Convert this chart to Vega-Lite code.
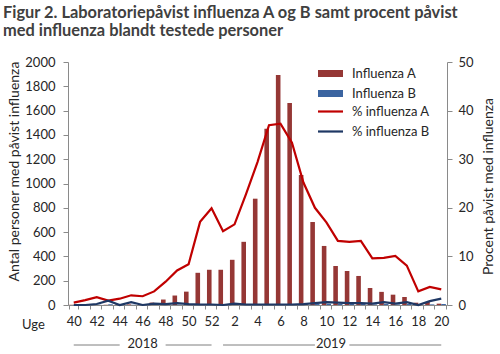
{
  "$schema": "https://vega.github.io/schema/vega-lite/v6.json",
  "width": 379,
  "height": 243,
  "autosize": "none",
  "padding": {"left": 68, "top": 62, "right": 53, "bottom": 49},
  "background": "white",
  "config": {
    "font": "Lato",
    "view": {"stroke": null},
    "axis": {
      "grid": false,
      "domainColor": "#8a8a8a",
      "tickColor": "#8a8a8a",
      "labelFontSize": 13,
      "labelColor": "#262626",
      "titleFontSize": 14,
      "titleFontWeight": "normal",
      "titleColor": "#262626",
      "tickSize": 5,
      "labelOverlap": false
    },
    "legend": {"labelFontSize": 13, "labelColor": "#262626"}
  },
  "title": {
    "text": ["Figur 2. Laboratoriepåvist influenza A og B samt procent påvist", "med influenza blandt testede personer"],
    "anchor": "start",
    "frame": "group",
    "dx": -65,
    "offset": 17,
    "fontSize": 16.4,
    "fontWeight": "bold",
    "color": "#404040",
    "lineHeight": 18
  },
  "datasets": {
    "w": [
      {"week": "40", "Influenza A": 2, "Influenza B": 0, "% influenza A": 0.5, "% influenza B": 0.0},
      {"week": "41", "Influenza A": 3, "Influenza B": 0, "% influenza A": 1.0, "% influenza B": 0.0},
      {"week": "42", "Influenza A": 3, "Influenza B": 2, "% influenza A": 1.6, "% influenza B": 0.2},
      {"week": "43", "Influenza A": 2, "Influenza B": 6, "% influenza A": 0.9, "% influenza B": 0.9},
      {"week": "44", "Influenza A": 4, "Influenza B": 0, "% influenza A": 1.3, "% influenza B": 0.0},
      {"week": "45", "Influenza A": 5, "Influenza B": 3, "% influenza A": 2.0, "% influenza B": 0.6},
      {"week": "46", "Influenza A": 8, "Influenza B": 0, "% influenza A": 1.8, "% influenza B": 0.0},
      {"week": "47", "Influenza A": 20, "Influenza B": 2, "% influenza A": 2.8, "% influenza B": 0.3},
      {"week": "48", "Influenza A": 45, "Influenza B": 2, "% influenza A": 4.8, "% influenza B": 0.2},
      {"week": "49", "Influenza A": 78, "Influenza B": 3, "% influenza A": 7.1, "% influenza B": 0.4},
      {"week": "50", "Influenza A": 110, "Influenza B": 2, "% influenza A": 8.4, "% influenza B": 0.2},
      {"week": "51", "Influenza A": 265, "Influenza B": 2, "% influenza A": 17.1, "% influenza B": 0.1},
      {"week": "52", "Influenza A": 290, "Influenza B": 1, "% influenza A": 19.9, "% influenza B": 0.1},
      {"week": "1", "Influenza A": 290, "Influenza B": 0, "% influenza A": 15.2, "% influenza B": 0.0},
      {"week": "2", "Influenza A": 372, "Influenza B": 6, "% influenza A": 16.6, "% influenza B": 0.3},
      {"week": "3", "Influenza A": 520, "Influenza B": 3, "% influenza A": 22.8, "% influenza B": 0.1},
      {"week": "4", "Influenza A": 875, "Influenza B": 2, "% influenza A": 29.4, "% influenza B": 0.1},
      {"week": "5", "Influenza A": 1450, "Influenza B": 3, "% influenza A": 37.0, "% influenza B": 0.1},
      {"week": "6", "Influenza A": 1893, "Influenza B": 4, "% influenza A": 37.3, "% influenza B": 0.1},
      {"week": "7", "Influenza A": 1663, "Influenza B": 4, "% influenza A": 33.4, "% influenza B": 0.1},
      {"week": "8", "Influenza A": 1070, "Influenza B": 5, "% influenza A": 25.2, "% influenza B": 0.2},
      {"week": "9", "Influenza A": 683, "Influenza B": 8, "% influenza A": 20.0, "% influenza B": 0.4},
      {"week": "10", "Influenza A": 486, "Influenza B": 10, "% influenza A": 17.0, "% influenza B": 0.6},
      {"week": "11", "Influenza A": 321, "Influenza B": 9, "% influenza A": 13.2, "% influenza B": 0.5},
      {"week": "12", "Influenza A": 280, "Influenza B": 8, "% influenza A": 13.0, "% influenza B": 0.4},
      {"week": "13", "Influenza A": 239, "Influenza B": 10, "% influenza A": 13.2, "% influenza B": 0.4},
      {"week": "14", "Influenza A": 140, "Influenza B": 5, "% influenza A": 9.6, "% influenza B": 0.3},
      {"week": "15", "Influenza A": 108, "Influenza B": 8, "% influenza A": 9.7, "% influenza B": 0.6},
      {"week": "16", "Influenza A": 85, "Influenza B": 5, "% influenza A": 10.1, "% influenza B": 0.3},
      {"week": "17", "Influenza A": 66, "Influenza B": 8, "% influenza A": 8.1, "% influenza B": 0.6},
      {"week": "18", "Influenza A": 19, "Influenza B": 0, "% influenza A": 2.8, "% influenza B": 0.0},
      {"week": "19", "Influenza A": 25, "Influenza B": 5, "% influenza A": 3.7, "% influenza B": 0.8},
      {"week": "20", "Influenza A": 11, "Influenza B": 8, "% influenza A": 3.2, "% influenza B": 1.3}
    ]
  },
  "resolve": {"scale": {"y": "independent"}},
  "layer": [
    {
      "data": {"name": "w"},
      "transform": [{"fold": ["Influenza A", "Influenza B"], "as": ["series", "value"]}],
      "mark": {"type": "bar"},
      "encoding": {
        "x": {
          "field": "week",
          "type": "ordinal",
          "title": "Uge",
          "scale": {
            "domain": ["40","41","42","43","44","45","46","47","48","49","50","51","52","1","2","3","4","5","6","7","8","9","10","11","12","13","14","15","16","17","18","19","20"],
            "paddingInner": 0.2,
            "paddingOuter": 0.1
          },
          "axis": {
            "labelAngle": 0,
            "labelOverlap": false,
            "labelExpr": "toNumber(datum.label) % 2 == 0 ? datum.label : ''",
            "tickBand": "extent",
            "tickSize": 4,
            "labelPadding": 6,
            "titleFontSize": 13,
            "titleX": -35,
            "titleY": 19,
            "titleAlign": "center",
            "titleBaseline": "middle",
            "titleAnchor": null
          }
        },
        "xOffset": {"field": "series", "scale": {"domain": ["Influenza A", "Influenza B"]}},
        "y": {
          "field": "value",
          "type": "quantitative",
          "title": "Antal personer med påvist influenza",
          "scale": {"domain": [0, 2000]},
          "axis": {
            "orient": "left",
            "values": [0,200,400,600,800,1000,1200,1400,1600,1800,2000],
            "format": "d",
            "labelOverlap": false,
            "labelPadding": 8,
            "titleAngle": 270,
            "titleX": -54,
            "titleY": 109,
            "titleAlign": "center",
            "titleBaseline": "middle",
            "titleAnchor": null
          }
        },
        "fill": {
          "field": "series",
          "type": "nominal",
          "scale": {"domain": ["Influenza A", "Influenza B"], "range": ["#953735", "#3b64a0"]},
          "legend": {
            "title": null,
            "orient": "none",
            "legendX": 256,
            "legendY": 5,
            "padding": 0,
            "symbolType": "M-2.5,-0.7H2.5V0.7H-2.5Z",
            "symbolSize": 100,
            "labelOffset": 15,
            "rowPadding": 6
          }
        }
      }
    },
    {
      "data": {"values": [{"from": "40", "to": "44"}, {"from": "48", "to": "52"}, {"from": "1", "to": "9"}, {"from": "12", "to": "20"}]},
      "mark": {"type": "rule", "color": "#7f7f7f", "strokeWidth": 1, "yOffset": 40},
      "encoding": {
        "x": {"field": "from", "type": "ordinal", "title": "Uge"},
        "x2": {"field": "to"},
        "y": {"datum": 0, "type": "quantitative", "scale": {"domain": [0, 1]}, "axis": null}
      }
    },
    {
      "data": {"values": [{"week": "46", "year": "2018"}]},
      "mark": {"type": "text", "dy": 39, "fontSize": 13, "color": "#262626"},
      "encoding": {
        "x": {"field": "week", "type": "ordinal", "title": "Uge"},
        "y": {"datum": 0, "type": "quantitative", "scale": {"domain": [0, 1]}, "axis": null},
        "text": {"field": "year"}
      }
    },
    {
      "data": {"values": [{"week": "10", "year": "2019"}]},
      "mark": {"type": "text", "dy": 39, "fontSize": 13, "color": "#262626"},
      "encoding": {
        "x": {"field": "week", "type": "ordinal", "title": "Uge", "bandPosition": 1},
        "y": {"datum": 0, "type": "quantitative", "scale": {"domain": [0, 1]}, "axis": null},
        "text": {"field": "year"}
      }
    },
    {
      "data": {"name": "w"},
      "transform": [{"fold": ["% influenza A", "% influenza B"], "as": ["series", "value"]}],
      "mark": {"type": "line", "strokeWidth": 2.2},
      "encoding": {
        "x": {"field": "week", "type": "ordinal", "title": "Uge"},
        "y": {
          "field": "value",
          "type": "quantitative",
          "scale": {"domain": [0, 50]},
          "axis": {
            "orient": "right",
            "values": [0,10,20,30,40,50],
            "labelOverlap": false,
            "title": "Procent påvist med influenza",
            "labelPadding": 6,
            "titleAngle": 270,
            "titleX": 41,
            "titleY": 124,
            "titleAlign": "center",
            "titleBaseline": "middle",
            "titleAnchor": null
          }
        },
        "stroke": {
          "field": "series",
          "type": "nominal",
          "scale": {"domain": ["% influenza A", "% influenza B"], "range": ["#c00000", "#1f3864"]},
          "legend": {
            "title": null,
            "orient": "none",
            "legendX": 256,
            "legendY": 43,
            "padding": 0,
            "symbolType": "M-2.5,0H2.5",
            "symbolSize": 100,
            "symbolStrokeWidth": 2.2,
            "labelOffset": 15,
            "rowPadding": 6
          }
        }
      }
    }
  ]
}
